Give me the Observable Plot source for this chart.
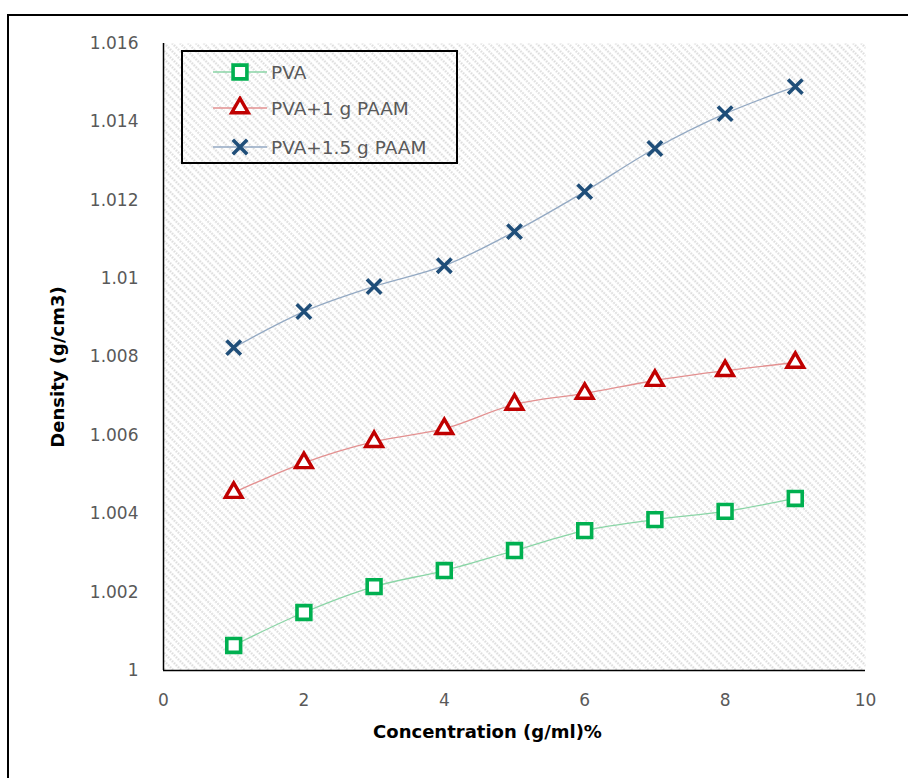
<!DOCTYPE html>
<html>
<head>
<meta charset="utf-8">
<script src="https://cdn.jsdelivr.net/npm/d3@7"></script>
<script src="https://cdn.jsdelivr.net/npm/@observablehq/plot@0.6"></script>
<style>
  html, body { margin: 0; padding: 0; background: #fff; overflow: hidden; }
  #wrap { position: relative; width: 908px; height: 778px; overflow: hidden; font-family: "DejaVu Sans", sans-serif; }
  #outer { position: absolute; left: 7px; top: 14px; width: 960px; height: 820px; border: 2px solid #000; box-sizing: border-box; }
  #chart { position: absolute; left: 0; top: 0; }
  #legend { position: absolute; left: 181px; top: 50px; width: 277px; height: 114px; border: 2px solid #000; box-sizing: border-box; }
  .row { position: absolute; left: 0; height: 24px; display: flex; align-items: center; }
  .row span { font-size: 18.5px; color: #595959; margin-left: 2px; }
  g[aria-label="y-axis label"] text, g[aria-label="x-axis label"] text { font-weight: bold; fill: #000; font-size: 18px; }
</style>
</head>
<body>
<div id="wrap">
  <div id="outer"></div>
  <div id="chart"></div>
  <div id="legend"></div>
</div>
<script>
const concentration = [1, 2, 3, 4, 5, 6, 7, 8, 9];
const pva      = [1.00064, 1.00148, 1.00214, 1.00255, 1.00306, 1.00357, 1.00385, 1.00406, 1.00439];
const pva1g    = [1.00454, 1.0053, 1.00584, 1.00617, 1.00679, 1.00707, 1.0074, 1.00765, 1.00786];
const pva15g   = [1.00824, 1.00916, 1.0098, 1.01033, 1.0112, 1.01222, 1.01332, 1.01421, 1.0149];
const seriesNames = ["PVA", "PVA+1 g PAAM", "PVA+1.5 g PAAM"];
const xTicks = [0, 2, 4, 6, 8, 10];
const yTicks = [1, 1.002, 1.004, 1.006, 1.008, 1.01, 1.012, 1.014, 1.016];

const styles = [
  {symbol: "square",   marker: "#00B050", line: "#8AD5A6", r: 7.8, sw: 3.6, fill: "#fff"},
  {symbol: "triangle", marker: "#C00000", line: "#E39090", r: 6.2, sw: 3.4, fill: "#fff"},
  {symbol: "times",    marker: "#1F4E79", line: "#93A9C3", r: 6.6, sw: 3.6, fill: "none"}
];
const values = [pva, pva1g, pva15g];

const rows = [];
values.forEach((vals, i) => vals.forEach((v, j) => rows.push({series: seriesNames[i], x: concentration[j], y: v, i})));

const marks = [
  Plot.frame({fill: "url(#hatch)", stroke: null}),
  Plot.ruleX([0], {stroke: "#000", strokeWidth: 1.5}),
  Plot.ruleY([1], {stroke: "#000", strokeWidth: 1.5})
];
values.forEach((vals, i) => {
  const data = rows.filter(d => d.i === i);
  const s = styles[i];
  marks.push(Plot.line(data, {x: "x", y: "y", stroke: s.line, strokeWidth: 1.3, curve: "catmull-rom"}));
});
values.forEach((vals, i) => {
  const data = rows.filter(d => d.i === i);
  const s = styles[i];
  marks.push(Plot.dot(data, {x: "x", y: "y", symbol: s.symbol, r: s.r, stroke: s.marker, strokeWidth: s.sw, fill: s.fill}));
});

const chart = Plot.plot({
  width: 908,
  height: 778,
  marginLeft: 163,
  marginRight: 43,
  marginTop: 43,
  marginBottom: 108,
  style: {fontFamily: "'DejaVu Sans', sans-serif", fontSize: "17px", color: "#595959", background: "transparent"},
  x: {domain: [0, 10], ticks: xTicks, tickSize: 0, tickPadding: 23, label: "Concentration (g/ml)%", labelAnchor: "center", labelOffset: 67, labelArrow: "none"},
  y: {domain: [1, 1.016], ticks: yTicks, tickSize: 0, tickPadding: 25, tickFormat: d => String(+d.toFixed(3)), label: "Density (g/cm3)", labelAnchor: "center", labelOffset: 112, labelArrow: "none"},
  marks
});

// shift axis titles to match the original placement
const xl = chart.querySelector('g[aria-label="x-axis label"]');
if (xl) xl.setAttribute("transform", (xl.getAttribute("transform") || "") + " translate(-27,0)");
const yl = chart.querySelector('g[aria-label="y-axis label"]');
if (yl) yl.setAttribute("transform", (yl.getAttribute("transform") || "") + " translate(0,10)");

// hatch pattern
const ns = "http://www.w3.org/2000/svg";
const defs = document.createElementNS(ns, "defs");
defs.innerHTML = '<pattern id="hatch" patternUnits="userSpaceOnUse" width="5.6" height="5.6" patternTransform="rotate(-45)"><rect width="5.6" height="5.6" fill="#fff"/><line x1="1.5" y1="0" x2="1.5" y2="5.6" stroke="#dcdcdc" stroke-width="2" stroke-dasharray="1.8 1"/></pattern>';
chart.insertBefore(defs, chart.firstChild);
document.getElementById("chart").appendChild(chart);

// legend
const legend = document.getElementById("legend");
const tops = [8, 44, 83];
seriesNames.forEach((name, i) => {
  const s = styles[i];
  const row = document.createElement("div");
  row.className = "row";
  row.style.top = tops[i] + "px";
  const sym = {square: d3.symbolSquare, triangle: d3.symbolTriangle, times: d3.symbolTimes}[s.symbol];
  const path = d3.symbol(sym, Math.PI * s.r * s.r)();
  row.innerHTML = `<svg width="86" height="24" style="display:block">
    <line x1="30" y1="12" x2="84" y2="12" stroke="${s.line}" stroke-width="1.3"/>
    <path d="${path}" transform="translate(57,12)" stroke="${s.marker}" stroke-width="${s.sw}" fill="${s.fill}"/>
  </svg><span>${name}</span>`;
  legend.appendChild(row);
});
</script>
</body>
</html>
